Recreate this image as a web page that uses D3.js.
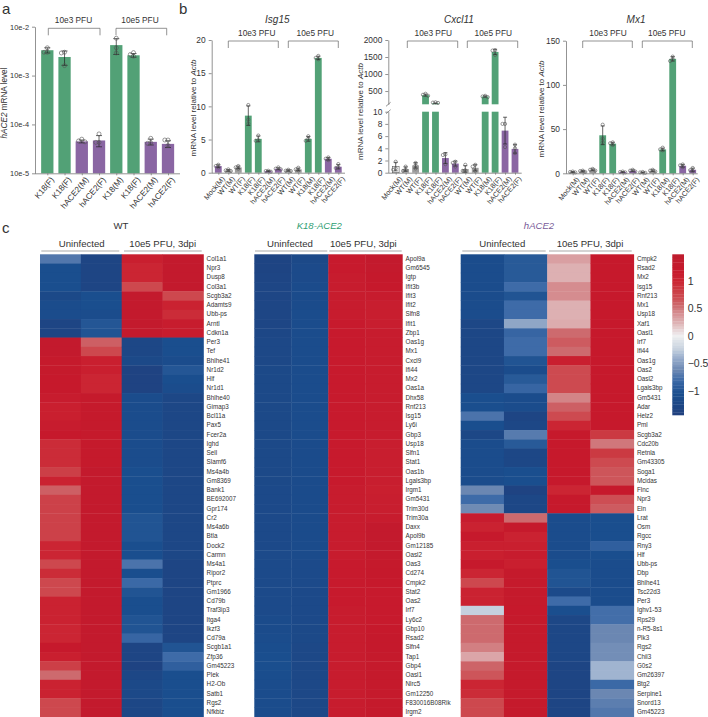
<!DOCTYPE html>
<html>
<head>
<meta charset="utf-8">
<script src="https://d3js.org/d3.v7.min.js"></script>
<style>
html, body { margin: 0; padding: 0; background: #fff; overflow: hidden; }
text { font-family: "Liberation Sans", Arial, sans-serif; fill: #333; }
</style>
</head>
<body>
<svg id="chart" width="708" height="717"></svg>
<script>
// ---- panel a ----
const aLabels = ["K18(F)", "K18(F)", "hACE2(M)", "hACE2(F)", "K18(M)", "K18(F)", "hACE2(M)", "hACE2(F)"];
const aMeans = [3.3e-3, 2.4e-3, 4.5e-5, 4.7e-5, 4.2e-3, 2.6e-3, 4.4e-5, 4.0e-5];
const aPoints = [
  [3.7e-3, 3.0e-3, 3.0e-3], [3.0e-3, 2.9e-3, 1.6e-3], [5.0e-5, 4.6e-5, 4.4e-5], [6.4e-5, 4.3e-5, 4.3e-5],
  [5.8e-3, 3.7e-3, 2.9e-3], [2.95e-3, 2.7e-3, 2.5e-3], [5.2e-5, 4.2e-5, 4.1e-5], [4.8e-5, 4.8e-5, 3.7e-5]
];
const aTicks = [1e-5, 1e-4, 1e-3, 1e-2];
const aTickLabels = ["10e-5", "10e-4", "10e-3", "10e-2"];

// ---- panel b ----
const bLabels = ["Mock(M)", "WT(M)", "WT(F)", "K18(F)", "K18(F)", "hACE2(M)", "hACE2(F)", "WT(M)", "WT(F)", "K18(M)", "K18(F)", "hACE2(M)", "hACE2(F)"];
const isg15Means = [1.0, 0.35, 0.8, 8.6, 5.1, 0.25, 0.6, 0.35, 0.5, 5.1, 17.3, 2.1, 0.9];
const isg15Points = [
  [1.2, 1.0, 0.8], [0.5, 0.35, 0.25], [1.0, 0.8, 0.6], [10.2, 8.0, 7.4], [5.6, 4.9, 4.8], [0.3, 0.25, 0.15], [0.8, 0.6, 0.5],
  [0.45, 0.3, 0.25], [0.75, 0.5, 0.35], [5.5, 5.1, 4.8], [17.6, 17.3, 17.1], [2.3, 2.1, 1.9], [1.3, 0.8, 0.7]
];
const cxcl11Means = [1.0, 0.6, 1.2, 380, 140, 2.4, 1.5, 0.6, 0.8, 340, 1650, 6.9, 3.9];
const cxcl11Points = [
  [1.8, 0.7, 0.5], [1.0, 0.5, 0.3], [1.6, 1.2, 0.7], [420, 390, 360], [170, 160, 150], [3.0, 2.9, 1.4], [1.8, 1.6, 1.0],
  [1.3, 0.4, 0.3], [1.3, 1.0, 0.3], [360, 340, 320], [1700, 1690, 1560], [8.0, 8.0, 4.2], [4.6, 4.0, 3.2]
];
const mx1Means = [1.5, 2.5, 4, 43, 33.5, 1.5, 3, 1, 3, 27, 129.5, 8.5, 4];
const mx1Points = [
  [2, 1.5, 1], [3, 2.5, 1.5], [5, 4, 3], [55, 39, 35], [35, 34, 32], [2, 1.5, 1], [4, 3, 2],
  [1.5, 1, 0.5], [4, 3, 2], [29, 27, 26], [132, 129, 127], [10, 9, 7], [6, 3.5, 2.5]
];

// ---- panel c ----
const heatColumns = ["Uninfected 1", "Uninfected 2", "Infected 1", "Infected 2"];
const wtGenes = ["Col1a1","Npr3","Dusp8","Col3a1","Scgb3a2","Adamts9","Ubb-ps","Arntl","Cdkn1a","Per3","Tef","Bhlhe41","Nr1d2","Hlf","Nr1d1","Bhlhe40","Gimap3","Bcl11a","Pax5","Fcer2a","Ighd","Sell","Slamf6","Ms4a4b","Gm8369","Bank1","BE692007","Gpr174","Cr2","Ms4a6b","Btla","Dock2","Carmn","Ms4a1","Ripor2","Ptprc","Gm1966","Cd79b","Traf3ip3","Itga4","Ikzf3","Cd79a","Scgb1a1","Zfp36","Gm45223","Plek","H2-Ob","Satb1","Rgs2","Nfkbiz"];
const wtValues = [
  [-0.72,-1.05,-1.05,-1.05,-1.2,-1.1,-1.1,-1.3,-1.3,1.3,1.3,1.25,1.25,1.2,1.2,1.15,1.1,1.1,1.15,1.2,0.95,0.95,0.95,0.8,1.05,0.6,0.78,0.78,0.78,0.78,0.78,1.0,1.0,0.72,0.95,0.72,0.72,1.05,1.05,1.05,1.0,1.0,1.2,1.1,0.8,0.55,1.05,1.05,0.72,0.72],
  [-1.3,-1.3,-1.3,-1.3,-1.05,-1.05,-1.1,-0.98,-1.0,0.6,0.72,1.1,1.1,1.0,1.0,1.25,1.25,1.25,1.25,1.25,1.25,1.25,1.25,1.3,1.3,1.3,1.3,1.3,1.3,1.3,1.3,1.3,1.3,1.3,1.3,1.3,1.3,1.3,1.3,1.3,1.3,1.3,1.3,1.3,1.3,1.3,1.3,1.3,1.3,1.3],
  [1.1,1.0,1.0,0.72,1.3,1.3,1.3,1.3,1.3,-1.25,-1.25,-1.2,-1.35,-1.35,-1.35,-1.1,-1.1,-1.1,-1.1,-1.1,-1.1,-1.1,-1.1,-1.05,-1.05,-1.05,-1.05,-1.05,-1.0,-1.0,-1.0,-1.05,-1.05,-0.75,-1.05,-0.82,-1.0,-1.05,-1.05,-1.0,-1.0,-0.85,-1.3,-1.3,-1.35,-1.25,-1.2,-1.2,-1.25,-1.25],
  [1.3,1.3,1.3,1.3,0.72,1.05,0.95,1.15,1.15,-1.05,-1.05,-1.1,-0.98,-1.05,-1.1,-1.25,-1.25,-1.25,-1.25,-1.25,-1.25,-1.25,-1.25,-1.25,-1.25,-1.25,-1.25,-1.25,-1.25,-1.25,-1.25,-1.25,-1.25,-1.3,-1.3,-1.3,-1.3,-1.3,-1.3,-1.3,-1.3,-1.3,-1.0,-0.8,-0.9,-1.05,-1.05,-1.05,-1.05,-1.05]
];
const k18Genes = ["Apol9a","Gm6545","Igtp","Ifit3b","Ifit3","Ifit2","Slfn8","Ifit1","Zbp1","Oas1g","Mx1","Cxcl9","Ifi44","Mx2","Oas1a","Dhx58","Rnf213","Isg15","Ly6i","Gbp3","Usp18","Slfn1","Stat1","Oas1b","Lgals3bp","Irgm1","Gm5431","Trim30d","Trim30a","Daxx","Apol9b","Gm12185","Oasl2","Oas3","Cd274","Cmpk2","Stat2","Oas2","Irf7","Ly6c2","Gbp10","Rsad2","Slfn4","Tap1","Gbp4","Oasl1","Nlrc5","Gm12250","F830016B08Rik","Irgm2"];
const k18Values = [
  [-1.32,-1.32,-1.3,-1.28,-1.28,-1.28,-1.28,-1.28,-1.25,-1.22,-1.22,-1.22,-1.2,-1.2,-1.2,-1.2,-1.2,-1.2,-1.2,-1.2,-1.2,-1.2,-1.2,-1.2,-1.2,-1.18,-1.18,-1.18,-1.18,-1.18,-1.18,-1.18,-1.15,-1.15,-1.15,-1.15,-1.15,-1.15,-1.15,-1.12,-1.12,-1.1,-1.08,-1.05,-1.05,-1.08,-1.1,-1.1,-1.1,-1.1],
  [-1.2,-1.15,-1.15,-1.12,-1.12,-1.12,-1.1,-1.1,-1.1,-1.1,-1.1,-1.1,-1.1,-1.1,-1.1,-1.1,-1.1,-1.1,-1.1,-1.1,-1.12,-1.12,-1.12,-1.12,-1.12,-1.12,-1.12,-1.12,-1.12,-1.12,-1.12,-1.12,-1.12,-1.15,-1.15,-1.15,-1.18,-1.18,-1.18,-1.18,-1.2,-1.2,-1.22,-1.22,-1.22,-1.22,-1.22,-1.22,-1.22,-1.22],
  [1.18,1.18,1.15,1.15,1.15,1.15,1.15,1.18,1.18,1.18,1.18,1.18,1.18,1.18,1.18,1.18,1.18,1.18,1.18,1.18,1.18,1.18,1.18,1.18,1.18,1.15,1.15,1.15,1.15,1.15,1.15,1.15,1.15,1.18,1.18,1.18,1.18,1.18,1.15,1.15,1.15,1.15,1.15,1.15,1.15,1.15,1.15,1.15,1.15,1.15],
  [1.3,1.28,1.22,1.2,1.15,1.12,1.12,1.12,1.15,1.15,1.15,1.15,1.15,1.15,1.15,1.15,1.15,1.15,1.15,1.15,1.12,1.12,1.12,1.12,1.12,1.1,1.12,1.12,1.15,1.3,1.3,1.3,1.28,1.25,1.22,1.2,1.18,1.18,1.18,1.18,1.2,1.22,1.22,1.25,1.25,1.25,1.25,1.25,1.25,1.25]
];
const hGenes = ["Cmpk2","Rsad2","Mx2","Isg15","Rnf213","Mx1","Usp18","Xaf1","Oasl1","Irf7","Ifi44","Oas1g","Oas2","Oasl2","Lgals3bp","Gm5431","Adar","Helz2","Pml","Scgb3a2","Cdc20b","Retnla","Gm43305","Soga1","Mcidas","Flnc","Npr3","Eln","Lrat","Osm","Rgcc","Rny3","Hlf","Ubb-ps","Dbp","Bhlhe41","Tsc22d3","Per3","Ighv1-53","Rps29","n-R5-8s1","Plk3","Rgs2","Chil3","G0s2","Gm26397","Btg2","Serpine1","Snord13","Gm45223"];
const hValues = [
  [-1.1,-1.1,-1.1,-1.1,-1.1,-1.1,-1.1,-1.25,-1.25,-1.25,-1.25,-1.25,-1.25,-1.25,-1.25,-1.05,-1.05,-0.75,-1.05,-1.25,-1.1,-1.1,-1.1,-1.1,-1.1,-0.62,-0.8,-0.6,1.15,1.05,1.2,1.1,1.1,1.2,1.0,0.72,1.05,1.05,-0.25,0.55,0.55,0.55,0.47,0.3,0.58,0.65,1.0,0.95,0.72,0.72],
  [-0.95,-0.95,-0.95,-0.8,-1.0,-0.8,-0.8,-0.45,-0.85,-0.8,-0.8,-1.0,-1.1,-0.95,-0.85,-1.1,-1.1,-1.3,-1.25,-0.7,-0.95,-1.25,-1.25,-1.05,-1.05,-1.35,-1.25,-1.25,0.55,1.25,1.05,1.1,1.15,1.1,1.25,1.25,1.25,1.25,1.2,1.25,1.25,1.25,1.25,1.25,1.25,1.25,1.25,1.25,1.25,1.25],
  [0.33,0.25,0.25,0.42,0.42,0.25,0.25,0.27,0.55,0.62,0.55,1.1,0.7,0.7,0.7,0.45,0.6,0.7,1.0,1.2,1.2,1.2,1.2,1.2,1.2,1.0,1.2,1.2,-1.1,-1.1,-1.1,-1.1,-1.1,-1.05,-1.0,-1.0,-1.15,-0.8,-1.05,-1.25,-1.25,-1.25,-1.25,-1.25,-1.3,-1.3,-1.3,-1.3,-1.3,-1.3],
  [1.2,1.2,1.2,1.2,1.2,1.2,1.2,1.2,1.2,1.2,1.2,1.2,1.2,1.2,1.2,1.2,1.2,1.2,1.2,0.85,0.5,0.85,0.7,0.65,0.65,1.2,0.68,0.62,-1.05,-1.05,-1.05,-0.9,-1.05,-1.1,-1.1,-1.1,-1.1,-1.1,-0.78,-0.78,-0.62,-0.62,-0.58,-0.58,-0.37,-0.37,-0.82,-0.62,-0.68,-0.72]
];
const colorStops = [-1.44, -1.05, -0.8, -0.62, -0.37, -0.25, 0, 0.25, 0.42, 0.55, 0.7, 0.85, 1.0, 1.2, 1.48];
const colorRange = ["#20407e", "#1a4e8e", "#3e6ba8", "#6b87b2", "#a0b4d0", "#c5d0de", "#efeff0", "#ddb0b2", "#d58c8f", "#cd6a6e", "#cd4a50", "#cb3a42", "#cb2533", "#c6192c", "#be1d2e"];
const legendTicks = [-1, -0.5, 0, 0.5, 1];

const GREEN = "#52a176", PURPLE = "#8a66a3", GRAY = "#9c9c9c", AXIS = "#777";
const conditionColor = label => label.startsWith("K18") ? GREEN : label.startsWith("hACE2") ? PURPLE : GRAY;

const color = d3.scaleLinear().domain(colorStops).range(colorRange);
const svg = d3.select("#chart");

function styleAxis(g) {
  g.selectAll("path,line").attr("stroke", AXIS).attr("stroke-width", 0.8);
  g.selectAll("text").attr("fill", "#333");
}

function bracket(g, x0, x1, yTop, label, textX, fs) {
  g.append("path")
    .attr("d", d3.line()([[x0, yTop + 7], [x0, yTop], [x1, yTop], [x1, yTop + 7]]))
    .attr("fill", "none").attr("stroke", "#666").attr("stroke-width", 0.7);
  g.append("text").attr("x", textX).attr("y", yTop - 5).attr("text-anchor", "middle")
    .attr("font-size", fs).text(label);
}

function barPanel(cfg) {
  const g = svg.append("g");
  const n = cfg.labels.length;
  const x = d3.scalePoint().domain(d3.range(n)).range([cfg.first, cfg.last]);

  // bars
  cfg.means.forEach((m, i) => {
    const fill = i === 0 && cfg.mockColor ? cfg.mockColor : conditionColor(cfg.labels[i]);
    cfg.barSegments(m).forEach(([top, bottom]) => {
      g.append("rect").attr("x", x(i) - cfg.barW / 2).attr("width", cfg.barW)
        .attr("y", top).attr("height", Math.max(0, bottom - top)).attr("fill", fill)
        .attr("stroke", i === 0 && cfg.mockColor === "#fff" ? "#555" : "none").attr("stroke-width", 0.6);
    });
  });

  // error bars, mean +/- sd of the points
  cfg.points.forEach((pts, i) => {
    const sd = d3.deviation(pts), m = cfg.means[i];
    const top = cfg.y(m + sd), bot = cfg.y(Math.max(m - sd, cfg.minValue));
    const err = g.append("g").attr("stroke", "#222").attr("stroke-width", 0.7);
    err.append("line").attr("x1", x(i)).attr("x2", x(i)).attr("y1", top).attr("y2", bot);
    [top, bot].forEach(v => err.append("line").attr("x1", x(i) - cfg.cap).attr("x2", x(i) + cfg.cap).attr("y1", v).attr("y2", v));
  });

  // open circles, nudged sideways when they would overlap
  cfg.points.forEach((pts, i) => {
    const placed = [];
    pts.forEach(v => {
      const py = cfg.y(v);
      const step = cfg.r * 1.6;
      const dx = [0, -step, step, -2 * step, 2 * step].find(o =>
        placed.every(p => Math.hypot(p[0] - o, p[1] - py) >= cfg.r * 1.5));
      placed.push([dx === undefined ? 0 : dx, py]);
    });
    g.selectAll(null).data(placed).join("circle")
      .attr("cx", d => x(i) + d[0]).attr("cy", d => d[1]).attr("r", cfg.r)
      .attr("fill", "none").attr("stroke", "#555").attr("stroke-width", 0.6);
  });

  // x axis
  const xAxis = g.append("g").attr("transform", `translate(0,${cfg.base})`)
    .call(d3.axisBottom(x).tickSize(2).tickSizeOuter(0).tickFormat(i => cfg.labels[i]));
  xAxis.select(".domain").attr("d", `M${cfg.axisX},0.5H${cfg.axisEnd}`);
  xAxis.selectAll("text").attr("font-size", cfg.xFont).attr("text-anchor", "end")
    .attr("transform", "rotate(-50)").attr("dx", "-0.1em").attr("dy", "0.55em");
  styleAxis(xAxis);

  cfg.drawYAxis(g);

  g.append("text").attr("transform", `translate(${cfg.yLabelX},${cfg.yLabelY}) rotate(-90)`)
    .attr("text-anchor", "middle").attr("font-size", cfg.yLabelFont)
    .call(t => cfg.yLabel.forEach(([s, it]) => t.append("tspan").attr("font-style", it ? "italic" : "normal").text(s)));

  if (cfg.title) {
    g.append("text").attr("x", cfg.titleX).attr("y", 23).attr("text-anchor", "middle")
      .attr("font-size", 10).attr("font-style", "italic").text(cfg.title);
  }
  cfg.brackets.forEach(b => bracket(g, b[0], b[1], cfg.bracketY, b[2], b[3], 8.3));
}

// panel a
const yA = d3.scaleLog().domain([1e-5, 1e-2]).range([173.3, 26.7]);
barPanel({
  labels: aLabels, means: aMeans, points: aPoints, first: 47.3, last: 168, barW: 12.3, cap: 3, r: 2,
  y: yA, minValue: 1e-5, base: 173.3, axisX: 35, axisEnd: 180, xFont: 8.2,
  barSegments: m => [[yA(m), 173.3]],
  drawYAxis: g => {
    const ax = g.append("g").attr("transform", "translate(35,0)")
      .call(d3.axisLeft(yA).tickValues(aTicks).tickSize(3).tickSizeOuter(0)
        .tickFormat((d, i) => aTickLabels[i]));
    ax.selectAll("text").attr("font-size", 7.4);
    styleAxis(ax);
  },
  yLabel: [["hACE2", true], [" mRNA level", false]], yLabelX: 7, yLabelY: 103, yLabelFont: 8.2,
  brackets: [[48.3, 100, "10e3 PFU", 73.5], [116, 166.7, "10e5 PFU", 140]], bracketY: 28.3
});

// panels b
const actbLabel = [["mRNA level relative to ", false], ["Actb", true]];
const yIsg = d3.scaleLinear().domain([0, 20]).range([172.7, 40]);
barPanel({
  labels: bLabels, means: isg15Means, points: isg15Points, first: 218.3, last: 338.3, barW: 6.8, cap: 2, r: 1.6,
  y: yIsg, minValue: 0, base: 172.7, axisX: 211.7, axisEnd: 345, xFont: 7.2, mockColor: PURPLE,
  barSegments: m => [[yIsg(m), 172.7]],
  drawYAxis: g => {
    const ax = g.append("g").attr("transform", "translate(211.7,0)")
      .call(d3.axisLeft(yIsg).tickValues([0, 5, 10, 15, 20]).tickSize(3).tickSizeOuter(0));
    ax.selectAll("text").attr("font-size", 8.4);
    styleAxis(ax);
  },
  yLabel: actbLabel, yLabelX: 196, yLabelY: 108, yLabelFont: 8,
  title: "Isg15", titleX: 277.3,
  brackets: [[228.3, 278.3, "10e3 PFU", 256.7], [288.3, 338.3, "10e5 PFU", 315.3]], bracketY: 41
});

// Cxcl11 has a broken axis, so two scales
const yCxLow = d3.scaleLinear().domain([0, 10]).range([172.7, 111.7]);
const yCxUp = d3.scaleLinear().domain([110, 2000]).range([104.3, 40]);
const yCx = v => v <= 10 ? yCxLow(v) : yCxUp(Math.max(v, 110));
barPanel({
  labels: bLabels, means: cxcl11Means, points: cxcl11Points, first: 395.7, last: 515, barW: 6.8, cap: 2, r: 1.6,
  y: yCx, minValue: 0, base: 172.7, axisX: 388.3, axisEnd: 521.7, xFont: 7.2, mockColor: "#fff",
  barSegments: m => m <= 10 ? [[yCxLow(m), 172.7]] : [[yCxLow(10), 172.7], [yCxUp(m), 104.3]],
  drawYAxis: g => {
    const low = g.append("g").attr("transform", "translate(388.3,0)")
      .call(d3.axisLeft(yCxLow).tickValues([0, 2, 4, 6, 8, 10]).tickSize(3).tickSizeOuter(0));
    const up = g.append("g").attr("transform", "translate(388.3,0)")
      .call(d3.axisLeft(yCxUp).tickValues([500, 1000, 1500, 2000]).tickSize(3).tickSizeOuter(0).tickFormat(d3.format("d")));
    [low, up].forEach(ax => { ax.selectAll("text").attr("font-size", 8.4); styleAxis(ax); });
    [yCxUp.range()[0], yCxLow.range()[1]].forEach(v => {
      g.append("line").attr("x1", 386).attr("x2", 390.6).attr("y1", v + 2).attr("y2", v - 2)
        .attr("stroke", AXIS).attr("stroke-width", 0.8);
    });
  },
  yLabel: actbLabel, yLabelX: 363, yLabelY: 111.5, yLabelFont: 8,
  title: "Cxcl11", titleX: 459,
  brackets: [[407.3, 457.7, "10e3 PFU", 433.3], [467.3, 517.7, "10e5 PFU", 493.3]], bracketY: 41
});

const yMx = d3.scaleLinear().domain([0, 150]).range([173.3, 40.7]);
barPanel({
  labels: bLabels, means: mx1Means, points: mx1Points, first: 572.7, last: 692.7, barW: 6.8, cap: 2, r: 1.6,
  y: yMx, minValue: 0, base: 173.3, axisX: 566, axisEnd: 697.7, xFont: 7.2,
  barSegments: m => [[yMx(m), 173.3]],
  drawYAxis: g => {
    const ax = g.append("g").attr("transform", "translate(566,0)")
      .call(d3.axisLeft(yMx).tickValues([0, 50, 100, 150]).tickSize(3).tickSizeOuter(0));
    ax.selectAll("text").attr("font-size", 8.4);
    styleAxis(ax);
  },
  yLabel: actbLabel, yLabelX: 544, yLabelY: 109, yLabelFont: 8,
  title: "Mx1", titleX: 636,
  brackets: [[582.7, 632.3, "10e3 PFU", 608], [642.3, 692.3, "10e5 PFU", 666.7]], bracketY: 41
});

// panel letters
[["a", 2, 14], ["b", 179, 14], ["c", 2, 233]].forEach(([s, px, py]) => {
  svg.append("text").attr("x", px).attr("y", py).attr("font-size", 15).attr("fill", "#222").text(s);
});

// heatmaps
function heatmap(cfg) {
  const g = svg.append("g");
  const x = d3.scaleBand().domain(heatColumns).range([cfg.x0, cfg.x1]);
  const y = d3.scaleBand().domain(cfg.genes).range([254.3, 254.3 + 9.25 * cfg.genes.length]);

  cfg.values.forEach((col, c) => {
    g.append("g").selectAll("rect").data(col).join("rect")
      .attr("x", x(heatColumns[c])).attr("width", x.bandwidth() + 0.4)
      .attr("y", (d, i) => y(cfg.genes[i])).attr("height", y.bandwidth() + 0.4)
      .attr("fill", d => color(d));
  });

  const labels = g.append("g").attr("transform", `translate(${cfg.x1},0)`)
    .call(d3.axisRight(y).tickSize(0).tickPadding(3.2));
  labels.select(".domain").remove();
  labels.selectAll("text").attr("font-size", 6.3);

  g.append("text").attr("x", cfg.titleX).attr("y", 229).attr("text-anchor", "middle")
    .attr("font-size", 9.6).attr("font-style", cfg.titleItalic ? "italic" : "normal")
    .style("fill", cfg.titleColor).text(cfg.title);

  cfg.headers.forEach(h => {
    g.append("text").attr("x", h[2]).attr("y", 246.8).attr("text-anchor", "middle")
      .attr("font-size", 9.6).text(h[3]);
    g.append("line").attr("x1", h[0]).attr("x2", h[1]).attr("y1", 251).attr("y2", 251)
      .attr("stroke", "#aaa").attr("stroke-width", 1.2);
  });
}

heatmap({
  genes: wtGenes, values: wtValues, x0: 40, x1: 203.4, title: "WT", titleX: 121, titleColor: "#333",
  headers: [[41.3, 119.3, 81.7, "Uninfected"], [124, 201.7, 162.7, "10e5 PFU, 3dpi"]]
});
heatmap({
  genes: k18Genes, values: k18Values, x0: 254.3, x1: 402.3, title: "K18-ACE2", titleX: 319.3, titleItalic: true, titleColor: "#2f9e73",
  headers: [[255, 327.3, 290, "Uninfected"], [329.3, 401.7, 363.3, "10e5 PFU, 3dpi"]]
});
heatmap({
  genes: hGenes, values: hValues, x0: 460.7, x1: 633.7, title: "hACE2", titleX: 539, titleItalic: true, titleColor: "#7a5c99",
  headers: [[462.3, 545.7, 502.3, "Uninfected"], [549, 631.7, 590, "10e5 PFU, 3dpi"]]
});

// colour bar
const legendY = d3.scaleLinear().domain([-1, 1]).range([391, 280.7]);
const legendLow = legendY.invert(415), legendHigh = legendY.invert(254.3);
const legendSteps = d3.range(60);
const stepH = (415 - 254.3) / legendSteps.length;
svg.append("g").selectAll("rect").data(legendSteps).join("rect")
  .attr("x", 672.3).attr("width", 11.7)
  .attr("y", d => 254.3 + d * stepH).attr("height", stepH + 0.3)
  .attr("fill", d => color(legendHigh - (d + 0.5) / legendSteps.length * (legendHigh - legendLow)));
const legendAxis = svg.append("g").attr("transform", "translate(684,0)")
  .call(d3.axisRight(legendY).tickValues(legendTicks).tickSize(0).tickPadding(3.7).tickFormat(d3.format("")));
legendAxis.select(".domain").remove();
legendAxis.selectAll("text").attr("font-size", 10.5);
</script>
</body>
</html>
